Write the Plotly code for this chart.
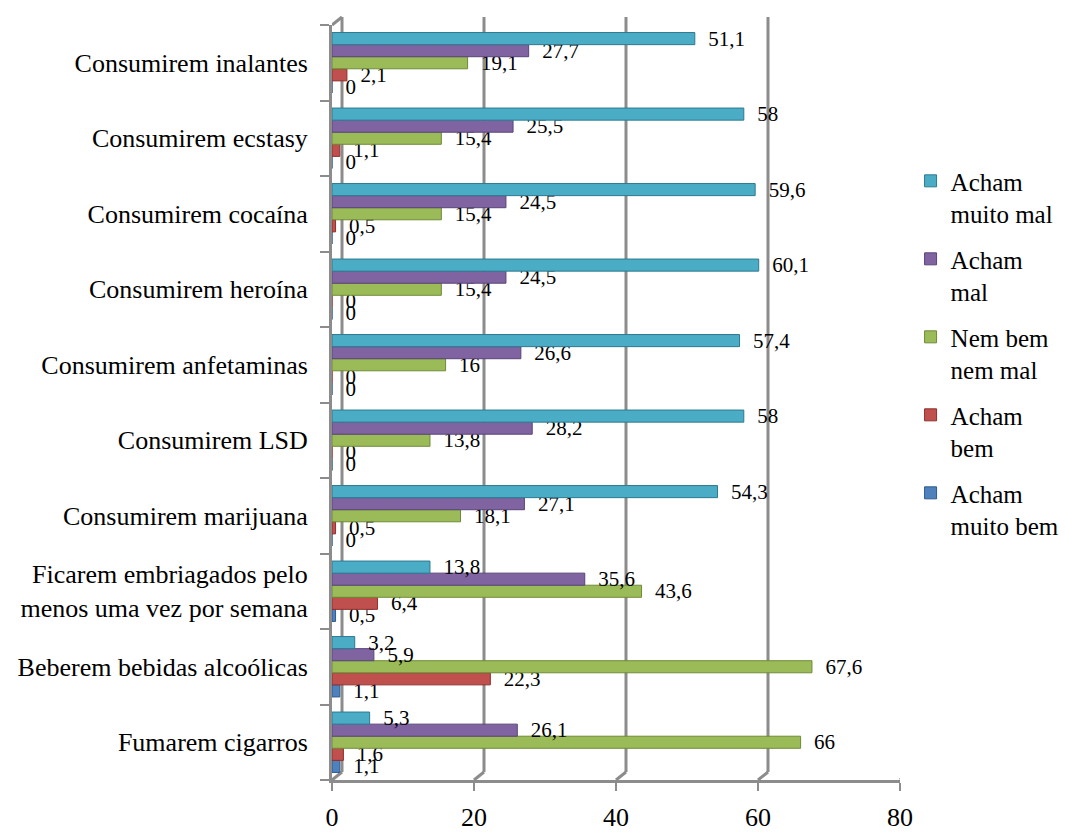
import plotly.graph_objects as go

categories = [
    "Fumarem cigarros",
    "Beberem bebidas alcoólicas",
    "Ficarem embriagados pelo<br>menos uma vez por semana",
    "Consumirem marijuana",
    "Consumirem LSD",
    "Consumirem anfetaminas",
    "Consumirem heroína",
    "Consumirem cocaína",
    "Consumirem ecstasy",
    "Consumirem inalantes",
]
muito_bem = [1.1, 1.1, 0.5, 0, 0, 0, 0, 0, 0, 0]
bem = [1.6, 22.3, 6.4, 0.5, 0, 0, 0, 0.5, 1.1, 2.1]
nem = [66, 67.6, 43.6, 18.1, 13.8, 16, 15.4, 15.4, 15.4, 19.1]
mal = [26.1, 5.9, 35.6, 27.1, 28.2, 26.6, 24.5, 24.5, 25.5, 27.7]
muito_mal = [5.3, 3.2, 13.8, 54.3, 58, 57.4, 60.1, 59.6, 58, 51.1]

series_names = ["Acham<br>muito bem", "Acham<br>bem", "Nem bem<br>nem mal", "Acham<br>mal", "Acham<br>muito mal"]
series_values = [muito_bem, bem, nem, mal, muito_mal]
fill_colors = ["#4F81BD", "#C0504D", "#9BBB59", "#8064A2", "#4BACC6"]
line_colors = ["#2E5A8E", "#8E2F2D", "#6E8A36", "#5A4478", "#2C7A90"]
x_ticks = [0, 20, 40, 60, 80]

FONT = "Liberation Serif, Times New Roman, serif"
GRID = "#8C8C8C"

fig = go.Figure()
n = len(series_names)
for i, (name, vals) in enumerate(zip(series_names, series_values)):
    fig.add_trace(go.Bar(
        y=categories, x=vals, name=name, orientation="h",
        marker=dict(color=fill_colors[i], line=dict(color=line_colors[i], width=1)),
        text=[f"{v:g}".replace(".", ",") for v in vals],
        texttemplate="\u00a0\u00a0%{text}",
        textposition="outside", constraintext="none", cliponaxis=False,
        textfont=dict(family=FONT, size=21, color="black"),
        legendgroup=f"g{i}", legendrank=(n - i) * 10,
    ))

shapes = []
for v in x_ticks:
    # back-wall gridline
    shapes.append(dict(type="line", xref="x", yref="paper", xsizemode="pixel", ysizemode="pixel",
                       xanchor=v, yanchor=0, x0=10, x1=10, y0=8, y1=763,
                       line=dict(color=GRID, width=3), layer="below"))
    # floor diagonal
    shapes.append(dict(type="line", xref="x", yref="paper", xsizemode="pixel", ysizemode="pixel",
                       xanchor=v, yanchor=0, x0=0, x1=10, y0=0, y1=8,
                       line=dict(color=GRID, width=3), layer="below"))
# top-left wall diagonal
shapes.append(dict(type="line", xref="x", yref="paper", xsizemode="pixel", ysizemode="pixel",
                   xanchor=0, yanchor=1, x0=0, x1=10, y0=0, y1=8,
                   line=dict(color=GRID, width=3), layer="below"))

fig.update_layout(
    width=1065, height=832, autosize=False,
    margin=dict(l=332, r=165, t=25, b=52, pad=0, autoexpand=False),
    paper_bgcolor="white", plot_bgcolor="white",
    barmode="group", bargap=0.2, bargroupgap=0.0,
    font=dict(family=FONT, color="black"),
    shapes=shapes,
    xaxis=dict(range=[0, 80], tickvals=x_ticks, showgrid=False, zeroline=False,
               showline=True, linecolor=GRID, linewidth=3,
               ticks="outside", ticklen=8, tickwidth=2, tickcolor=GRID,
               tickfont=dict(family=FONT, size=26, color="black"),
               ticklabelstandoff=4, automargin=False),
    yaxis=dict(type="category", showgrid=False, zeroline=False,
               showline=True, linecolor=GRID, linewidth=3,
               ticks="outside", tickson="boundaries", ticklen=9, tickwidth=2, tickcolor=GRID,
               tickfont=dict(family=FONT, size=26, color="black"),
               ticklabelstandoff=16, automargin=False),
    legend=dict(xref="container", yref="container", x=0.855, y=0.81, xanchor="left", yanchor="top",
                traceorder="grouped", tracegroupgap=10, valign="top",
                font=dict(family=FONT, size=25, color="black"),
                bgcolor="rgba(0,0,0,0)"),
    showlegend=True,
)

fig.write_html("out.html")
